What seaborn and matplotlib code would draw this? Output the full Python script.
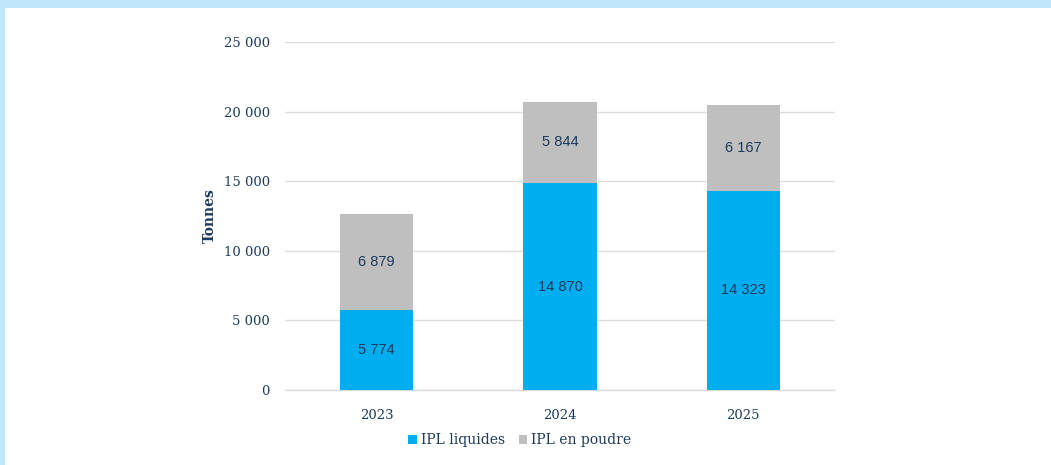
import matplotlib
matplotlib.use("Agg")
import matplotlib.pyplot as plt
import seaborn as sns
import pandas as pd
from matplotlib.patches import Rectangle, Patch

years = ["2023", "2024", "2025"]
liquides = [5774, 14870, 14323]
poudre = [6879, 5844, 6167]
yticks = [0, 5000, 10000, 15000, 20000, 25000]
ytick_labels = ["0", "5 000", "10 000", "15 000", "20 000", "25 000"]

BLUE = "#00AEEF"
GREY = "#BFBFBF"
NAVY = "#1C3A5C"
GRID = "#DCDCDC"

sns.set_theme(style="white")
plt.rcParams['font.family'] = ['DejaVu Sans']

fig = plt.figure(figsize=(10.51, 4.65), dpi=100)
fig.patch.set_facecolor("white")
fig.patches.append(Rectangle((0, 1 - 8 / 465), 1, 8 / 465, transform=fig.transFigure,
                             facecolor="#BFE6F9", edgecolor="none", zorder=0))
fig.patches.append(Rectangle((0, 0), 5 / 1051, 1, transform=fig.transFigure,
                             facecolor="#BFE6F9", edgecolor="none", zorder=0))

ax = fig.add_axes([285 / 1051, 1 - 390 / 465, 550 / 1051, 348 / 465])

df = pd.DataFrame({"year": years, "liquides": liquides, "poudre": poudre})
df["total"] = df["liquides"] + df["poudre"]

sns.barplot(data=df, x="year", y="total", color=GREY, width=0.4, ax=ax,
            saturation=1, zorder=3, linewidth=0, edgecolor="none")
sns.barplot(data=df, x="year", y="liquides", color=BLUE, width=0.4, ax=ax,
            saturation=1, zorder=4, linewidth=0, edgecolor="none")

for i, (l, p) in enumerate(zip(liquides, poudre)):
    ax.text(i, l / 2, f"{l:,}".replace(",", " "), ha="center", va="center",
            fontsize=10.5, color=NAVY, family="Liberation Sans", zorder=5)
    ax.text(i, l + p / 2, f"{p:,}".replace(",", " "), ha="center", va="center",
            fontsize=10.5, color=NAVY, family="Liberation Sans", zorder=5)

ax.set_xlim(-0.5, 2.5)
ax.set_ylim(0, 25000)
ax.set_yticks(yticks)
ax.set_yticklabels(ytick_labels)
ax.yaxis.grid(True, color=GRID, linewidth=1)
ax.axhline(0, color=GRID, linewidth=1, clip_on=False, zorder=1)
ax.set_axisbelow(True)
for s in ax.spines.values():
    s.set_visible(False)
ax.tick_params(axis="y", length=0, pad=11, labelcolor=NAVY)
ax.tick_params(axis="x", length=0, pad=14, labelcolor=NAVY)
for t in ax.get_xticklabels() + ax.get_yticklabels():
    t.set_family("DejaVu Serif")
    t.set_fontsize(9.5)
ax.set_xlabel("")
ax.set_ylabel("Tonnes", fontsize=10, fontweight="bold", color=NAVY,
              family="DejaVu Serif", labelpad=5)

handles = [Patch(facecolor=BLUE, edgecolor="none", label="IPL liquides"),
           Patch(facecolor=GREY, edgecolor="none", label="IPL en poudre")]
leg = fig.legend(handles=handles, loc="center", bbox_to_anchor=(520 / 1051, 1 - 440 / 465),
                 ncol=2, frameon=False, handlelength=0.6, handleheight=0.6,
                 handletextpad=0.3, columnspacing=1.0,
                 prop={"family": "DejaVu Serif", "size": 10})
for t in leg.get_texts():
    t.set_color(NAVY)

fig.savefig("out.png", dpi=100)
